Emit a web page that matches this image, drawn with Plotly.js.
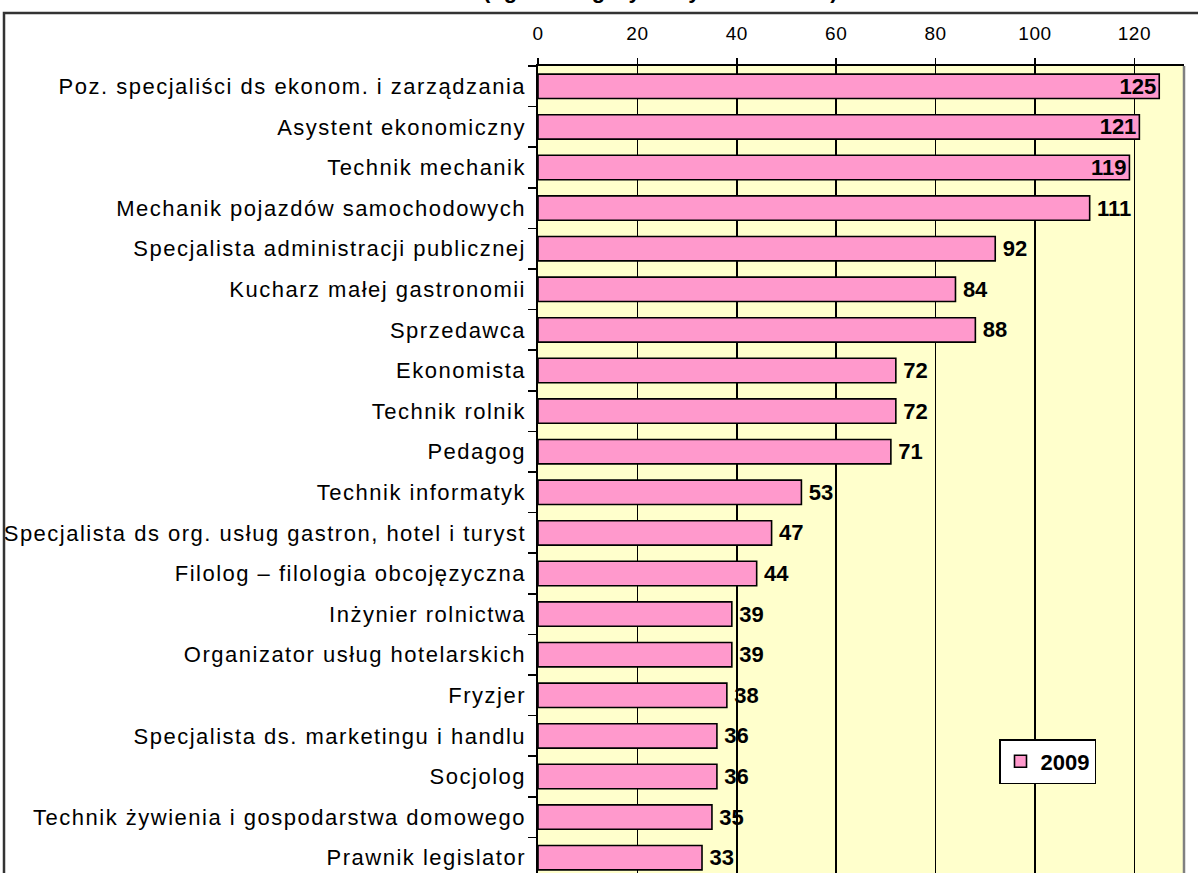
<!DOCTYPE html>
<html>
<head>
<meta charset="utf-8">
<script src="https://cdn.plot.ly/plotly-3.0.1.min.js"></script>
<style>
html,body{margin:0;padding:0;background:#fff;overflow:hidden;}
#chart{width:1198px;height:873px;}
.ytick text{letter-spacing:1.5px;}
.xtick text{letter-spacing:0.6px;}
</style>
</head>
<body>
<div id="chart"></div>
<script>
const categories = [
  "Poz. specjaliści ds ekonom. i zarządzania",
  "Asystent ekonomiczny",
  "Technik mechanik",
  "Mechanik pojazdów samochodowych",
  "Specjalista administracji publicznej",
  "Kucharz małej gastronomii",
  "Sprzedawca",
  "Ekonomista",
  "Technik rolnik",
  "Pedagog",
  "Technik informatyk",
  "Specjalista ds org. usług gastron, hotel i turyst",
  "Filolog – filologia obcojęzyczna",
  "Inżynier rolnictwa",
  "Organizator usług hotelarskich",
  "Fryzjer",
  "Specjalista ds. marketingu i handlu",
  "Socjolog",
  "Technik żywienia i gospodarstwa domowego",
  "Prawnik legislator"
];
const values2009 = [125, 121, 119, 111, 92, 84, 88, 72, 72, 71, 53, 47, 44, 39, 39, 38, 36, 36, 35, 33];
const seriesName = "2009";
const titleText = "(ogółem wg wybranych zawodów)";
const xTicks = [0, 20, 40, 60, 80, 100, 120];

const W = 1198, H = 873;
const mL = 538, mR = 14, mT = 66, mB = 0;
const plotW = W - mL - mR, plotH = H - mT - mB;
const catPx = 40.6;
const yBottom = -0.5 + plotH / catPx;

const isInside = values2009.map(v => v >= 115);
const textPos = isInside.map(f => f ? "inside" : "outside");
const labels = values2009.map((v, i) => isInside[i] ? String(v) : "\u2009" + String(v));

const lblFont = {family: "Liberation Sans, Arial, sans-serif", size: 22, color: "#000000", weight: "bold"};

const trace = {
  type: "bar",
  orientation: "h",
  name: seriesName,
  x: values2009,
  y: categories,
  marker: {color: "#FF99CC", line: {color: "#000000", width: 1.6}},
  text: labels,
  textposition: textPos,
  insidetextanchor: "end",
  textangle: 0,
  constraintext: "none",
  cliponaxis: false,
  textfont: lblFont,
  insidetextfont: lblFont,
  outsidetextfont: lblFont,
  hoverinfo: "x+y"
};

const layout = {
  width: W, height: H,
  margin: {l: mL, r: mR, t: mT, b: mB, pad: 0},
  paper_bgcolor: "#FFFFFF",
  plot_bgcolor: "#FFFFCC",
  bargap: 0.4,
  showlegend: true,
  legend: {
    x: (999 - mL) / plotW, y: (H - 739) / plotH,
    xanchor: "left", yanchor: "top",
    bgcolor: "#FFFFFF", bordercolor: "#000000", borderwidth: 1.5,
    font: {family: "Liberation Sans, Arial, sans-serif", size: 22, color: "#000", weight: "bold"},
    itemwidth: 30, tracegroupgap: 0
  },
  xaxis: {
    side: "top",
    range: [0, plotW / 4.97],
    tickvals: xTicks,
    ticktext: xTicks.map(String),
    showgrid: true, gridcolor: "#000000", gridwidth: 1.6,
    zeroline: false,
    showline: true, linecolor: "#000000", linewidth: 1.6,
    ticks: "outside", ticklen: 6, tickwidth: 1.6, tickcolor: "#000",
    ticklabelstandoff: 11,
    tickfont: {family: "Liberation Sans, Arial, sans-serif", size: 19, color: "#000"},
    fixedrange: true
  },
  yaxis: {
    type: "category",
    categoryorder: "array",
    categoryarray: categories,
    range: [yBottom, -0.5],
    tickson: "boundaries",
    ticks: "outside", ticklen: 8, tickwidth: 1.6, tickcolor: "#000",
    showgrid: false, zeroline: false,
    showline: true, linecolor: "#000000", linewidth: 1.6,
    ticklabelstandoff: 6,
    tickfont: {family: "Liberation Sans, Arial, sans-serif", size: 22, color: "#000"},
    fixedrange: true
  },
  shapes: [
    {type: "line", xref: "paper", yref: "paper", x0: 1, x1: 1, y0: 0, y1: 1,
     line: {color: "#808080", width: 2.5}},
    {type: "rect", xref: "paper", yref: "paper",
     x0: (4 - mL) / plotW, x1: 1.5, y0: -0.5, y1: 1 + (mT - 13) / plotH,
     line: {color: "#333333", width: 2.5}, fillcolor: "rgba(0,0,0,0)", layer: "above"}
  ],
  annotations: [
    {text: "<b>" + titleText + "</b>", xref: "paper", yref: "paper",
     x: (660 - mL) / plotW, y: 1 + (mT + 10) / plotH, xanchor: "center", yanchor: "middle",
     showarrow: false, font: {family: "Liberation Sans, Arial, sans-serif", size: 22, color: "#000"}}
  ]
};

Plotly.newPlot("chart", [trace], layout, {displayModeBar: false, staticPlot: true});
</script>
</body>
</html>
